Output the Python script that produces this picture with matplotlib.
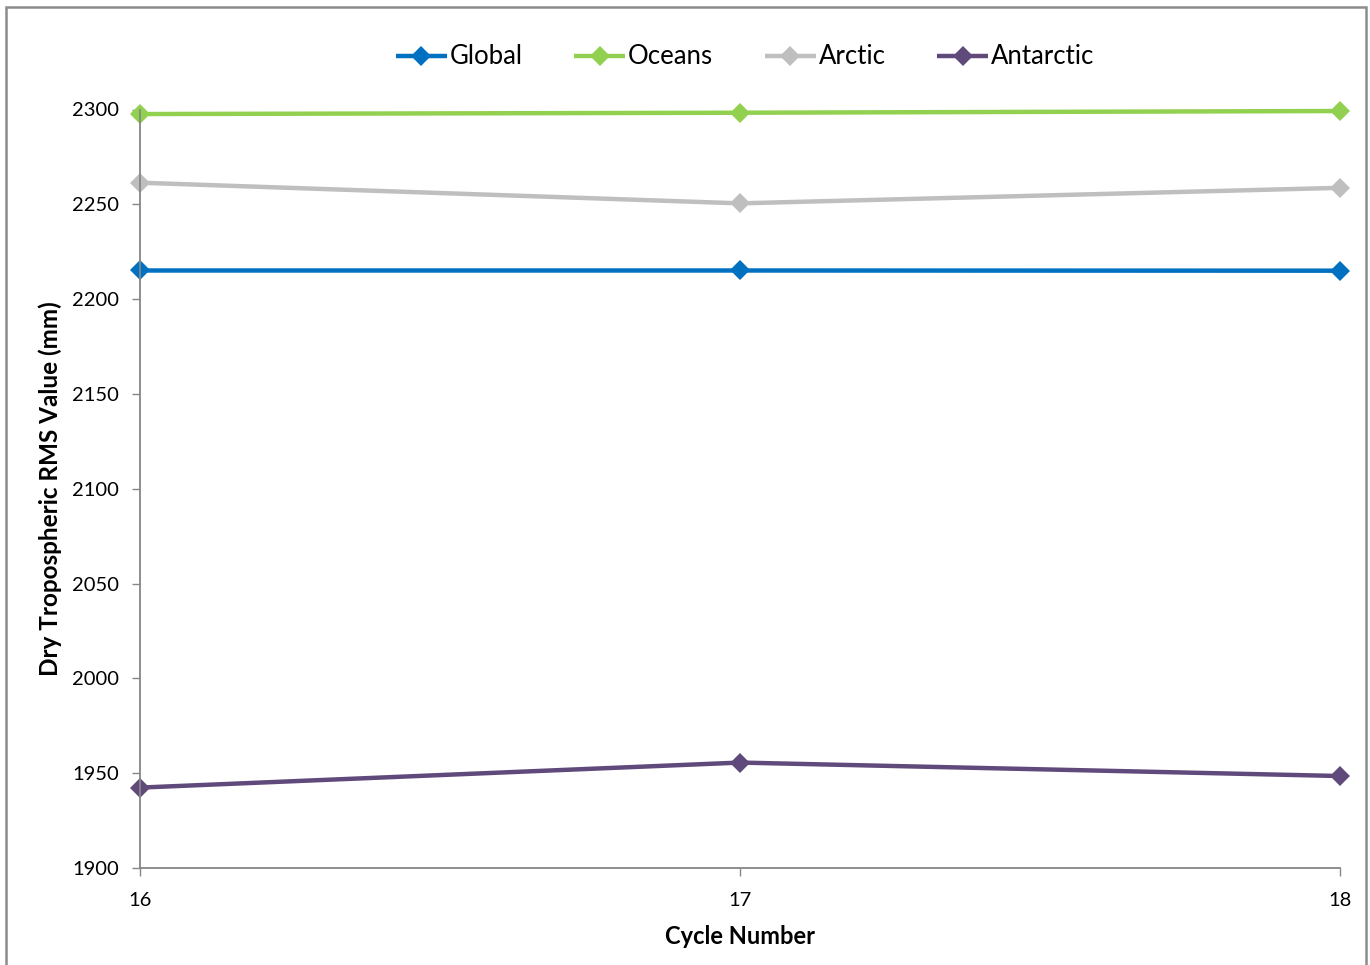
import matplotlib
matplotlib.use("Agg")
import matplotlib.pyplot as plt
from matplotlib.patches import Rectangle

cycles = [16, 17, 18]
global_vals = [2215.1, 2215.1, 2215.0]
oceans_vals = [2297.6, 2298.3, 2299.2]
arctic_vals = [2261.4, 2250.5, 2258.7]
antarctic_vals = [1942.4, 1955.6, 1948.5]
series_names = ["Global", "Oceans", "Arctic", "Antarctic"]
colors = ["#0070C0", "#92D050", "#BFBFBF", "#604A7B"]
y_ticks = [1900, 1950, 2000, 2050, 2100, 2150, 2200, 2250, 2300]

plt.rcParams['font.family'] = ['Lato', 'DejaVu Sans']

fig = plt.figure(figsize=(13.7, 9.65), dpi=100)
ax = fig.add_axes([140/1370, 97/965, 1200/1370, 758.5/965])

for vals, name, c in zip([global_vals, oceans_vals, arctic_vals, antarctic_vals], series_names, colors):
    ax.plot(cycles, vals, color=c, lw=3.2, marker='D', markersize=10.5, markeredgewidth=0,
            label=name, solid_capstyle='butt', clip_on=False)

ax.set_xlim(16, 18)
ax.set_ylim(1900, 2300)
ax.set_xticks(cycles)
ax.set_yticks(y_ticks)
for s in ['top', 'right']:
    ax.spines[s].set_visible(False)
for s in ['left', 'bottom']:
    ax.spines[s].set_color('#868686')
    ax.spines[s].set_linewidth(1.3)
ax.tick_params(axis='both', colors='#868686', length=6, width=1.0, labelsize=14.5,
               labelcolor='black', direction='out')
ax.tick_params(axis='y', pad=9)
ax.tick_params(axis='x', pad=11)
ax.set_xlabel("Cycle Number", fontsize=17, fontweight='bold', labelpad=12)
ax.set_ylabel("Dry Tropospheric RMS Value (mm)", fontsize=17.5, fontweight='bold', labelpad=7)

leg = ax.legend(loc='center', bbox_to_anchor=(745/1370, 1 - 57/965), bbox_transform=fig.transFigure,
                ncol=4, frameon=False, fontsize=18.5, handlelength=2.0, handletextpad=0.1,
                columnspacing=2.0)

fig.patches.append(Rectangle((6/1370, -0.01), 1360/1370, 1 - 7/965 + 0.01, transform=fig.transFigure,
                             fill=False, edgecolor='#8c8c8c', lw=1.8))

fig.savefig("out.png", dpi=100)
